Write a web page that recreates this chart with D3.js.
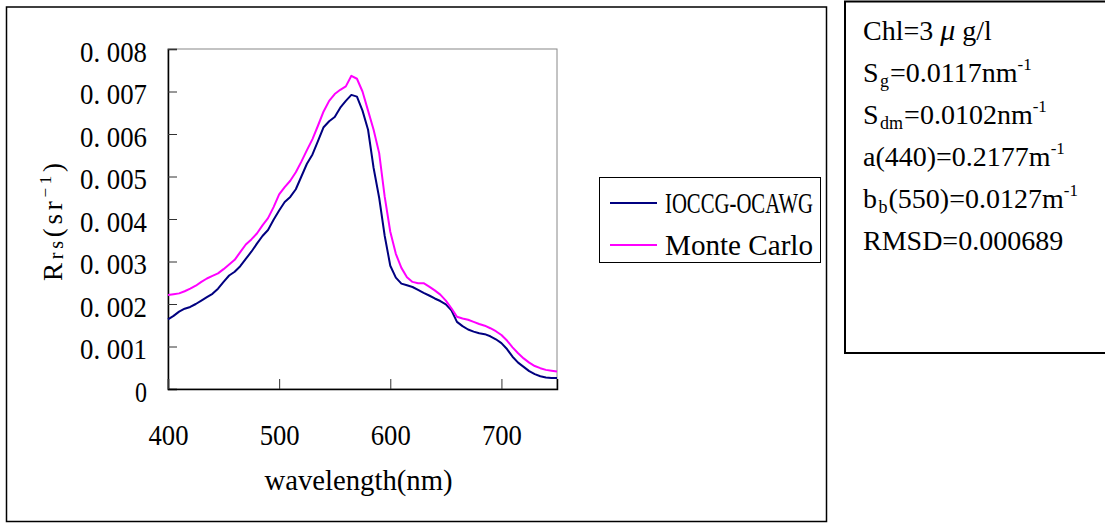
<!DOCTYPE html>
<html>
<head>
<meta charset="utf-8">
<script src="https://cdn.jsdelivr.net/npm/d3@7"></script>
<style>
  body { margin: 0; background: #fff; }
  text { font-family: "Liberation Serif", "Times New Roman", serif; fill: #000; }
</style>
</head>
<body>
<div id="chart"></div>
<script>
/* DATA */
const wavelengths = [400, 405, 410, 415, 420, 425, 430, 435, 440, 445, 450, 455, 460, 465, 470, 475,
  480, 485, 490, 495, 500, 505, 510, 515, 520, 525, 530, 535, 540, 545, 550, 555, 560, 565, 570, 575,
  580, 585, 590, 595, 600, 605, 610, 615, 620, 625, 630, 635, 640, 645, 650, 655, 660, 665, 670, 675,
  680, 685, 690, 695, 700, 705, 710, 715, 720, 725, 730, 735, 740, 745, 750];

const ioccg = [0.00164, 0.00172, 0.00182, 0.00189, 0.00193, 0.00200, 0.00208, 0.00216, 0.00224, 0.00236,
  0.00252, 0.00267, 0.00276, 0.00289, 0.00306, 0.00323, 0.00342, 0.00360, 0.00374, 0.00398,
  0.00420, 0.00440, 0.00452, 0.00470, 0.00500, 0.00530, 0.00552, 0.00584, 0.00616, 0.00630,
  0.00640, 0.00662, 0.00678, 0.00692, 0.00688, 0.00655, 0.00610, 0.00520, 0.00450, 0.00360,
  0.00290, 0.00262, 0.00248, 0.00244, 0.00240, 0.00233, 0.00226, 0.00220, 0.00213, 0.00207,
  0.00199, 0.00185, 0.00158, 0.00148, 0.00140, 0.00135, 0.00131, 0.00129, 0.00124, 0.00117,
  0.00108, 0.00094, 0.00076, 0.00062, 0.00052, 0.00042, 0.00035, 0.00030, 0.00027, 0.00026, 0.00026];

const monteCarlo = [0.00221, 0.00223, 0.00225, 0.00230, 0.00236, 0.00243, 0.00252, 0.00260, 0.00266, 0.00272,
  0.00282, 0.00293, 0.00304, 0.00322, 0.00340, 0.00352, 0.00366, 0.00385, 0.00402, 0.00428,
  0.00458, 0.00475, 0.00490, 0.00510, 0.00535, 0.00562, 0.00588, 0.00620, 0.00653, 0.00678,
  0.00694, 0.00704, 0.00712, 0.00737, 0.00730, 0.00700, 0.00655, 0.00610, 0.00555, 0.00452,
  0.00370, 0.00318, 0.00285, 0.00263, 0.00252, 0.00249, 0.00249, 0.00241, 0.00232, 0.00222,
  0.00208, 0.00190, 0.00170, 0.00166, 0.00163, 0.00158, 0.00153, 0.00149, 0.00143, 0.00136,
  0.00127, 0.00114, 0.00098, 0.00084, 0.00072, 0.00062, 0.00054, 0.00049, 0.00045, 0.00043, 0.00041];

const seriesNames = ["IOCCG-OCAWG", "Monte Carlo"];
const xTicks = [400, 500, 600, 700];
const yTicks = [0, 0.001, 0.002, 0.003, 0.004, 0.005, 0.006, 0.007, 0.008];

// parameter box lines: [text, mode] where mode is "", "sub", "sup" or "it"
const infoLines = [
  [["Chl=3 ", ""], ["\u03bc", "it"], [" g/l", ""]],
  [["S", ""], ["g", "sub"], ["=0.0117nm", ""], ["-1", "sup"]],
  [["S", ""], ["dm", "sub"], ["=0.0102nm", ""], ["-1", "sup"]],
  [["a(440)=0.2177m", ""], ["-1", "sup"]],
  [["b", ""], ["b", "sub"], ["(550)=0.0127m", ""], ["-1", "sup"]],
  [["RMSD=0.000689", ""]]
];

/* LAYOUT */
const width = 1105, height = 524;
const plot = { left: 168, right: 557, top: 49, bottom: 389 };
const colors = ["#000080", "#ff00ff"];
const serif = '"Liberation Serif", "Times New Roman", serif';

const svg = d3.select("#chart").append("svg")
  .attr("width", width)
  .attr("height", height);

// outer chart frame
svg.append("rect")
  .attr("x", 6.5).attr("y", 7)
  .attr("width", 820).attr("height", 514.5)
  .attr("fill", "none").attr("stroke", "#000").attr("stroke-width", 1.5);

// scales
const xScale = d3.scaleLinear().domain([400, 750]).range([plot.left, plot.right]);
const yScale = d3.scaleLinear().domain([0, 0.008]).range([plot.bottom, plot.top]);

// plot frame (top/right gray)
svg.append("rect")
  .attr("x", plot.left).attr("y", plot.top)
  .attr("width", plot.right - plot.left).attr("height", plot.bottom - plot.top)
  .attr("fill", "none").attr("stroke", "#888").attr("stroke-width", 1);

// y axis
const yAxis = d3.axisLeft(yScale)
  .tickValues(yTicks)
  .tickSize(-9)
  .tickPadding(21)
  .tickFormat(d => d === 0 ? "0" : d3.format(".3f")(d).replace(".", ". "));

svg.append("g")
  .attr("transform", `translate(${plot.left},0)`)
  .call(yAxis)
  .call(g => g.select(".domain").attr("stroke", "#000").attr("stroke-width", 1.5))
  .call(g => g.selectAll(".tick line").attr("stroke", "#333"))
  .call(g => g.selectAll(".tick text")
    .attr("font-size", 29)
    .attr("textLength", d => d === 0 ? 12 : 67)
    .attr("lengthAdjust", "spacingAndGlyphs")
    .attr("dy", "0.42em"));

// x axis
const xAxis = d3.axisBottom(xScale)
  .tickValues(xTicks)
  .tickSize(-10)
  .tickFormat(d3.format("d"));

svg.append("g")
  .attr("transform", `translate(0,${plot.bottom})`)
  .call(xAxis)
  .call(g => g.select(".domain").attr("stroke", "#000").attr("stroke-width", 1.5))
  .call(g => g.selectAll(".tick line").attr("stroke", "#333"))
  .call(g => g.selectAll(".tick text")
    .attr("font-size", 30)
    .attr("textLength", 40)
    .attr("lengthAdjust", "spacingAndGlyphs")
    .attr("y", 56)
    .attr("dy", null));

// axis titles
svg.append("text")
  .attr("x", (plot.left + plot.right) / 2 - 4)
  .attr("y", 490)
  .attr("text-anchor", "middle")
  .attr("font-size", 29)
  .attr("textLength", 188)
  .attr("lengthAdjust", "spacingAndGlyphs")
  .text("wavelength(nm)");

const yTitle = svg.append("text")
  .attr("transform", "translate(62,222) rotate(-90)")
  .attr("text-anchor", "middle")
  .attr("font-size", 27)
  .attr("textLength", 118)
  .attr("lengthAdjust", "spacing");
yTitle.append("tspan").text("R");
yTitle.append("tspan").attr("font-size", 20).attr("dy", 1).text("rs");
yTitle.append("tspan").attr("dy", -1).text("(sr");
yTitle.append("tspan").attr("font-size", 17).attr("dy", -11).text("\u22121");
yTitle.append("tspan").attr("dy", 11).text(")");

// lines
const line = d3.line()
  .x((d, i) => xScale(wavelengths[i]))
  .y(d => yScale(d));

svg.selectAll(".series")
  .data([ioccg, monteCarlo])
  .join("path")
  .attr("class", "series")
  .attr("d", line)
  .attr("fill", "none")
  .attr("stroke", (d, i) => colors[i])
  .attr("stroke-width", 2)
  .attr("stroke-linejoin", "round");

// legend
const legend = svg.append("g");
legend.append("rect")
  .attr("x", 599.5).attr("y", 177.5)
  .attr("width", 221).attr("height", 85)
  .attr("fill", "#fff").attr("stroke", "#000").attr("stroke-width", 1);

const items = legend.selectAll(".item")
  .data(seriesNames)
  .join("g")
  .attr("class", "item")
  .attr("transform", (d, i) => `translate(0,${203 + i * 42})`);

items.append("line")
  .attr("x1", 610).attr("x2", 657)
  .attr("stroke", (d, i) => colors[i])
  .attr("stroke-width", 2);

items.append("text")
  .attr("x", 665)
  .attr("y", 10)
  .attr("font-size", 29)
  .attr("textLength", 148)
  .attr("lengthAdjust", "spacingAndGlyphs")
  .text(d => d);

// parameter box
svg.append("rect")
  .attr("x", 845).attr("y", 1.5)
  .attr("width", 270).attr("height", 351.5)
  .attr("fill", "#fff").attr("stroke", "#000").attr("stroke-width", 2);

infoLines.forEach((parts, i) => {
  const t = svg.append("text")
    .attr("x", 863)
    .attr("y", 40 + i * 42)
    .attr("font-size", 28);
  let shift = 0;
  let prev = "";
  parts.forEach(([s, mode]) => {
    const ts = t.append("tspan").text(s);
    let target = 0;
    if (mode === "sub") { ts.attr("font-size", 18).attr("dx", 1.5); target = 5; }
    if (mode === "sup") { ts.attr("font-size", 17); target = -12; }
    if (mode === "it") { ts.attr("font-style", "italic").attr("font-size", 30); }
    if (prev === "sub") ts.attr("dx", 1);
    ts.attr("dy", target - shift);
    shift = target;
    prev = mode;
  });
});

// make sure every label uses the serif face
svg.selectAll("text").style("font-family", serif).style("fill", "#000");
</script>
</body>
</html>
